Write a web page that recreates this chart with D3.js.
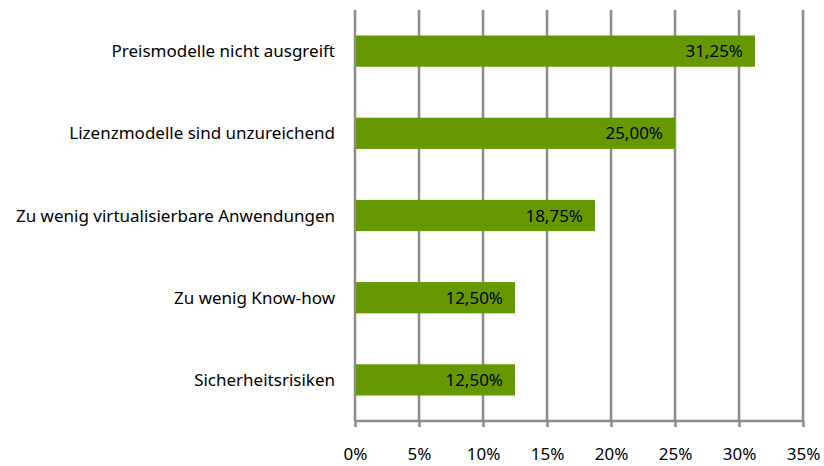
<!DOCTYPE html>
<html>
<head>
<meta charset="utf-8">
<script src="https://cdn.jsdelivr.net/npm/d3@7"></script>
<style>
  html, body { margin: 0; padding: 0; background: #fff; }
  svg { display: block; font-family: "Noto Sans", "Open Sans", sans-serif; }
</style>
</head>
<body>
<svg id="chart" width="824" height="466"></svg>
<script>
// Hemmnisse – Anteil der Nennungen
const categories = [
  "Preismodelle nicht ausgreift",
  "Lizenzmodelle sind unzureichend",
  "Zu wenig virtualisierbare Anwendungen",
  "Zu wenig Know-how",
  "Sicherheitsrisiken"
];
const values = [31.25, 25.00, 18.75, 12.50, 12.50];
const tickValues = [0, 5, 10, 15, 20, 25, 30, 35];

const svg = d3.select("#chart");
const margin = { left: 355, right: 21, top: 10, bottom: 45 };
const W = 824, H = 466;
const fontFamily = "'Noto Sans', 'Open Sans', sans-serif";
const fontSize = 17;

const x = d3.scaleLinear().domain([0, 35]).range([margin.left, W - margin.right]);
const y = d3.scaleBand().domain(categories).range([margin.top, H - margin.bottom]).paddingInner(0.62).paddingOuter(0.31);

const gridColor = "#8c8c8c";
const fmt = v => v.toFixed(2).replace(".", ",") + "%";

// vertical gridlines
svg.append("g").selectAll("line").data(tickValues).join("line")
  .attr("x1", d => x(d)).attr("x2", d => x(d))
  .attr("y1", margin.top).attr("y2", H - margin.bottom)
  .attr("stroke", gridColor).attr("stroke-width", 2.5);

// bars
svg.append("g").selectAll("rect").data(values).join("rect")
  .attr("x", x(0) + 1)
  .attr("y", (d, i) => y(categories[i]))
  .attr("width", d => x(d) - x(0) - 1)
  .attr("height", y.bandwidth())
  .attr("fill", "#669900");

// value labels inside bars
svg.append("g").selectAll("text").data(values).join("text")
  .attr("x", d => x(d) - 12)
  .attr("y", (d, i) => y(categories[i]) + y.bandwidth() / 2)
  .attr("dy", "0.36em")
  .attr("text-anchor", "end")
  .attr("font-size", fontSize)
  .attr("fill", "#000")
  .text(fmt);

// x axis
const xAxis = d3.axisBottom(x).tickValues(tickValues).tickSize(6).tickPadding(21)
  .tickFormat(d => d + "%");
const gx = svg.append("g").attr("transform", `translate(0,${H - margin.bottom})`).call(xAxis);
gx.select(".domain").attr("stroke", gridColor).attr("stroke-width", 2.5).attr("d", `M${x(0)},0H${x(35)}`);
gx.selectAll(".tick text").attr("font-size", fontSize).attr("fill", "#000").attr("font-family", fontFamily);
gx.selectAll(".tick line").attr("stroke", gridColor).attr("stroke-width", 2.5);

// category labels
svg.append("g").selectAll("text").data(categories).join("text")
  .attr("x", margin.left - 20)
  .attr("y", d => y(d) + y.bandwidth() / 2)
  .attr("dy", "0.36em")
  .attr("text-anchor", "end")
  .attr("font-size", fontSize)
  .attr("fill", "#000")
  .text(d => d);
</script>
</body>
</html>
